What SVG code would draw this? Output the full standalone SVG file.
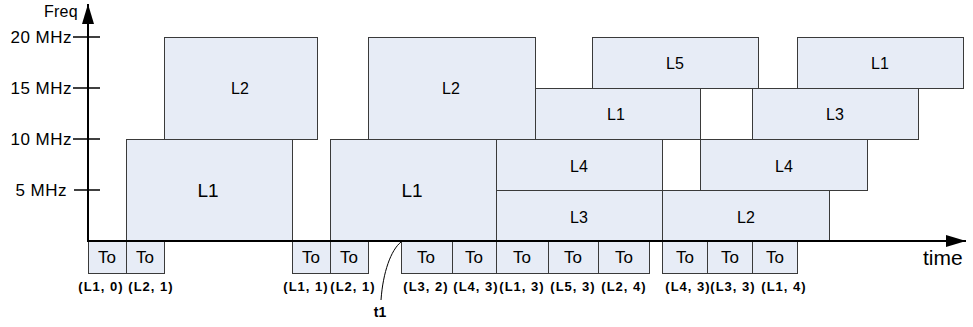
<svg xmlns="http://www.w3.org/2000/svg" width="973" height="327" viewBox="0 0 973 327">
  <style>
    .blk { fill: #E7ECF6; stroke: #3a3a3a; stroke-width: 1; }
    .lbl { font-family: "Liberation Sans", Arial, sans-serif; font-size: 16px; fill: #000; text-anchor: middle; }
    .big { font-size: 19px; }
    .to { font-family: "Liberation Sans", Arial, sans-serif; font-size: 17px; fill: #000; text-anchor: middle; }
    .slot { font-family: "Liberation Sans", Arial, sans-serif; font-size: 13px; font-weight: bold; letter-spacing: 1px; fill: #000; text-anchor: middle; }
    .ax { font-family: "Liberation Sans", Arial, sans-serif; font-size: 17px; letter-spacing: 0.5px; fill: #000; text-anchor: end; }
    .axis { stroke: #000; stroke-width: 2; fill: none; }
    .tick { stroke: #000; stroke-width: 1.5; fill: none; }
  </style>
  <defs>
    <marker id="arrow" viewBox="0 0 20 12" refX="20" refY="6" markerWidth="20" markerHeight="12" markerUnits="userSpaceOnUse" orient="auto">
      <path d="M0,0 L20,6 L0,12 Z" fill="#000"/>
    </marker>
  </defs>

  <rect width="973" height="327" fill="#fff"/>

  <!-- channel allocation blocks -->
  <g id="l2-a"><rect class="blk" x="164.5" y="37.5" width="153" height="102"/><text class="lbl" x="240" y="94">L2</text></g>
  <g id="l1-a"><rect class="blk" x="126.5" y="139.5" width="166" height="102"/><text class="lbl big" x="208" y="197">L1</text></g>
  <g id="l2-b"><rect class="blk" x="368.5" y="37.5" width="167" height="102"/><text class="lbl" x="451" y="94">L2</text></g>
  <g id="l1-b"><rect class="blk" x="330.5" y="139.5" width="166" height="102"/><text class="lbl big" x="412" y="197">L1</text></g>
  <g id="l1-c"><rect class="blk" x="535.5" y="88.5" width="165" height="51"/><text class="lbl" x="616" y="120">L1</text></g>
  <g id="l5"><rect class="blk" x="592.5" y="37.5" width="166" height="51"/><text class="lbl" x="675" y="69">L5</text></g>
  <g id="l4-a"><rect class="blk" x="496.5" y="139.5" width="166" height="51"/><text class="lbl" x="579" y="172">L4</text></g>
  <g id="l3-a"><rect class="blk" x="496.5" y="190.5" width="166" height="51"/><text class="lbl" x="579" y="223">L3</text></g>
  <g id="l1-d"><rect class="blk" x="797.5" y="37.5" width="166" height="51"/><text class="lbl" x="880" y="69">L1</text></g>
  <g id="l3-b"><rect class="blk" x="752.5" y="88.5" width="166" height="51"/><text class="lbl" x="835" y="120">L3</text></g>
  <g id="l4-b"><rect class="blk" x="700.5" y="139.5" width="167" height="51"/><text class="lbl" x="784" y="172">L4</text></g>
  <g id="l2-c"><rect class="blk" x="662.5" y="190.5" width="167" height="51"/><text class="lbl" x="746" y="223">L2</text></g>

  <!-- To slots along the time axis -->
  <g id="to-1"><rect class="blk" x="88.5" y="241.5" width="38" height="32"/><text class="to" x="107" y="263">To</text></g>
  <g id="to-2"><rect class="blk" x="126.5" y="241.5" width="38" height="32"/><text class="to" x="145" y="263">To</text></g>
  <g id="to-3"><rect class="blk" x="292.5" y="241.5" width="38" height="32"/><text class="to" x="311" y="263">To</text></g>
  <g id="to-4"><rect class="blk" x="330.5" y="241.5" width="38" height="32"/><text class="to" x="349" y="263">To</text></g>
  <g id="to-5"><rect class="blk" x="401.5" y="241.5" width="51" height="32"/><text class="to" x="426" y="263">To</text></g>
  <g id="to-6"><rect class="blk" x="452.5" y="241.5" width="44" height="32"/><text class="to" x="474" y="263">To</text></g>
  <g id="to-7"><rect class="blk" x="496.5" y="241.5" width="52" height="32"/><text class="to" x="522" y="263">To</text></g>
  <g id="to-8"><rect class="blk" x="548.5" y="241.5" width="50" height="32"/><text class="to" x="573" y="263">To</text></g>
  <g id="to-9"><rect class="blk" x="598.5" y="241.5" width="51" height="32"/><text class="to" x="624" y="263">To</text></g>
  <g id="to-10"><rect class="blk" x="662.5" y="241.5" width="45" height="32"/><text class="to" x="685" y="263">To</text></g>
  <g id="to-11"><rect class="blk" x="707.5" y="241.5" width="45" height="32"/><text class="to" x="730" y="263">To</text></g>
  <g id="to-12"><rect class="blk" x="752.5" y="241.5" width="45" height="32"/><text class="to" x="775" y="263">To</text></g>

  <!-- slot labels -->
  <g id="slot-labels">
    <text class="slot" x="101" y="291">(L1, 0)</text>
    <text class="slot" x="151" y="291">(L2, 1)</text>
    <text class="slot" x="306" y="291">(L1, 1)</text>
    <text class="slot" x="353" y="291">(L2, 1)</text>
    <text class="slot" x="426" y="291">(L3, 2)</text>
    <text class="slot" x="476" y="291">(L4, 3)</text>
    <text class="slot" x="522" y="291">(L1, 3)</text>
    <text class="slot" x="573" y="291">(L5, 3)</text>
    <text class="slot" x="624" y="291">(L2, 4)</text>
    <text class="slot" x="688" y="291">(L4, 3)</text>
    <text class="slot" x="733" y="291">(L3, 3)</text>
    <text class="slot" x="784" y="291">(L1, 4)</text>
  </g>

  <!-- axes, ticks and the t1 pointer -->
  <g id="connectors">
    <line class="axis" x1="88" y1="242" x2="88" y2="4" marker-end="url(#arrow)"/>
    <line class="axis" x1="87" y1="241" x2="966" y2="241" marker-end="url(#arrow)"/>
    <line class="tick" x1="73" y1="37" x2="100" y2="37"/>
    <line class="tick" x1="73" y1="88" x2="100" y2="88"/>
    <line class="tick" x1="73" y1="139" x2="100" y2="139"/>
    <line class="tick" x1="74" y1="190" x2="100" y2="190"/>
    <path d="M401,242 C391,250 383,272 381,300" fill="none" stroke="#000" stroke-width="1"/>
  </g>

  <!-- axis labels -->
  <g id="axis-labels">
    <text class="ax" x="72" y="43">20 MHz</text>
    <text class="ax" x="72" y="94">15 MHz</text>
    <text class="ax" x="72" y="145">10 MHz</text>
    <text class="ax" x="67" y="196">5 MHz</text>
    <text x="78" y="17" font-family="Liberation Sans, Arial, sans-serif" font-size="16" letter-spacing="0.3" text-anchor="end">Freq</text>
    <text x="923" y="265" font-family="Liberation Sans, Arial, sans-serif" font-size="21">time</text>
    <text x="380" y="317" font-family="Liberation Sans, Arial, sans-serif" font-size="14" font-weight="bold" text-anchor="middle">t1</text>
  </g>
</svg>
